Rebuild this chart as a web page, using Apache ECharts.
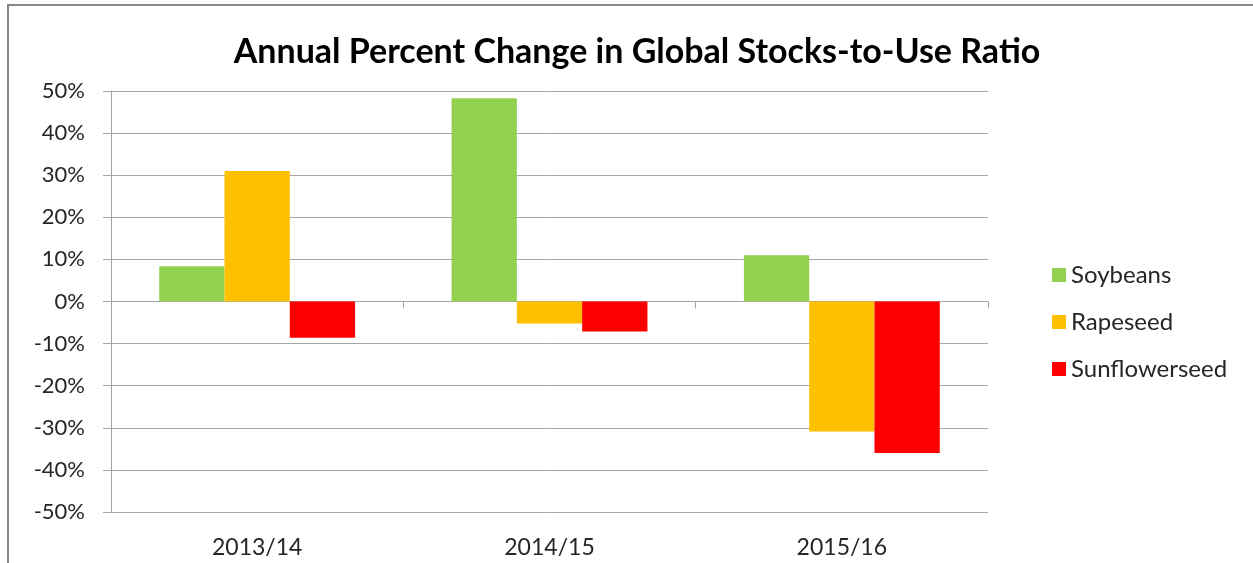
<!DOCTYPE html>
<html>
<head>
<meta charset="utf-8">
<script src="https://cdn.jsdelivr.net/npm/echarts@6/dist/echarts.min.js"></script>
<style>
html, body { margin: 0; padding: 0; background: #fff; }
#chart { width: 1253px; height: 563px; }
</style>
</head>
<body>
<div id="chart"></div>
<script>
var years = ['2013/14', '2014/15', '2015/16'];
var soybeans = [8.4, 48.3, 11.0];
var rapeseed = [31.0, -5.2, -30.9];
var sunflowerseed = [-8.6, -7.1, -36.0];

var font = 'Lato, "Open Sans", sans-serif';
var gridColor = '#a6a6a6';

var myChart = echarts.init(document.getElementById('chart'));
var option = {
    backgroundColor: '#fff',
    animation: false,
    title: {
        text: 'Annual Percent Change in Global Stocks-to-Use Ratio',
        left: 632,
        top: 30,
        textAlign: 'center',
        textStyle: {
            fontFamily: font,
            fontSize: 34,
            fontWeight: 'bold',
            color: '#000'
        }
    },
    // outer frame
    graphic: [{
        type: 'rect',
        shape: { x: 8, y: 5, width: 1400, height: 700 },
        style: { fill: null, stroke: '#888', lineWidth: 2 },
        silent: true
    }],
    legend: {
        orient: 'vertical',
        left: 1047,
        top: 258,
        icon: 'rect',
        itemWidth: 14,
        itemHeight: 14,
        itemGap: 23,
        textStyle: { fontFamily: font, fontSize: 24, color: '#262626' },
        data: ['Soybeans', 'Rapeseed', 'Sunflowerseed']
    },
    grid: { left: 111, right: 265, top: 91, bottom: 51 },
    xAxis: [{
        type: 'category',
        data: years,
        axisLine: { onZero: true, lineStyle: { color: gridColor, width: 1 } },
        axisTick: { show: true, length: 7, lineStyle: { color: gridColor } },
        axisLabel: { show: false }
    }, {
        type: 'category',
        data: years,
        position: 'bottom',
        axisLine: { show: false, onZero: false },
        axisTick: { show: false },
        axisLabel: {
            margin: 24,
            fontFamily: font,
            fontSize: 23,
            color: '#262626'
        }
    }],
    yAxis: {
        type: 'value',
        min: -50,
        max: 50,
        interval: 10,
        axisLine: { show: true, lineStyle: { color: gridColor, width: 1 } },
        axisTick: { show: true, length: 8, lineStyle: { color: gridColor } },
        splitLine: { lineStyle: { color: gridColor, width: 1 } },
        axisLabel: {
            margin: 26,
            fontFamily: font,
            fontSize: 22,
            color: '#262626',
            formatter: '{value}%'
        }
    },
    series: [{
        name: 'Soybeans',
        type: 'bar',
        xAxisIndex: 0,
        barGap: '0%',
        barCategoryGap: '33%',
        itemStyle: { color: '#92D050' },
        data: soybeans
    }, {
        name: 'Rapeseed',
        type: 'bar',
        xAxisIndex: 0,
        barGap: '0%',
        barCategoryGap: '33%',
        itemStyle: { color: '#FFC000' },
        data: rapeseed
    }, {
        name: 'Sunflowerseed',
        type: 'bar',
        xAxisIndex: 0,
        barGap: '0%',
        barCategoryGap: '33%',
        itemStyle: { color: '#FF0000' },
        data: sunflowerseed
    }]
};
myChart.setOption(option);
</script>
</body>
</html>
